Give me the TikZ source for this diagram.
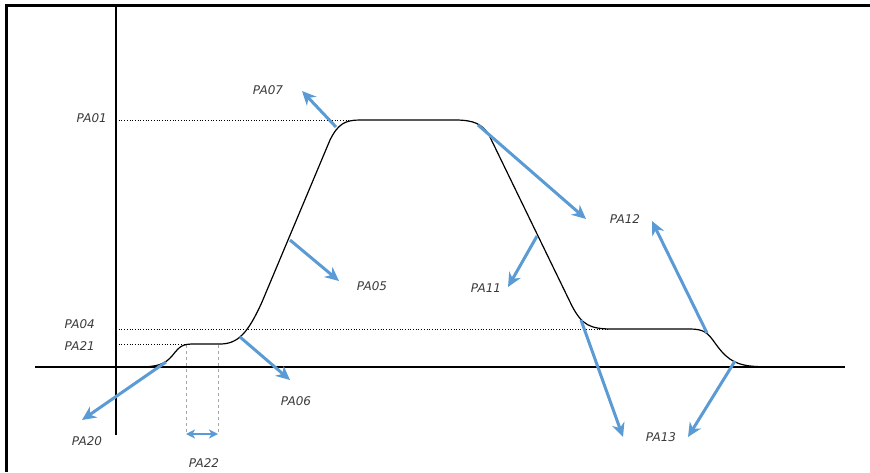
\documentclass[tikz,border=0pt]{standalone}
\usepackage{fontspec}
\setsansfont{DejaVu Sans}
\usetikzlibrary{arrows.meta}
\definecolor{arrowblue}{HTML}{5B9BD5}
\definecolor{labelgray}{HTML}{3A3A3A}
\tikzset{
  frameline/.style={line width=3pt, black},
  axisline/.style={line width=1.1pt, black},
  levelline/.style={line width=0.7pt, dotted, black},
  guide/.style={line width=0.7pt, dashed, gray!70},
  curveline/.style={line width=1.2pt, black},
  bluearrow/.style={line width=3pt, arrowblue, -{Stealth[length=14pt,width=13pt,inset=4.5pt]}},
  bluedouble/.style={line width=2.2pt, arrowblue, {Stealth[length=9pt,width=9pt,inset=2.5pt]}-{Stealth[length=9pt,width=9pt,inset=2.5pt]}},
  lbl/.style={font=\sffamily\itshape\fontsize{12}{14}\selectfont, text=labelgray, inner sep=0pt}
}
\begin{document}
\begin{tikzpicture}[x=1pt,y=-1pt]
\useasboundingbox (0,0) rectangle (870,472);
% frame
\draw[frameline] (6,472) -- (6,5) -- (870,5);
% axes
\coordinate (yt) at (116,7);
\coordinate (yb) at (116,435);
\coordinate (xl) at (35,367);
\coordinate (xr) at (845,367);
\draw[axisline] (yt) -- (yb);
\draw[axisline] (xl) -- (xr);
% level lines
\coordinate (l1a) at (116,120); \coordinate (l1b) at (352,120);
\coordinate (l4a) at (116,329); \coordinate (l4b) at (608,329);
\coordinate (l21a) at (116,344); \coordinate (l21b) at (190,344);
\draw[levelline] (l1a) -- (l1b);
\draw[levelline] (l4a) -- (l4b);
\draw[levelline] (l21a) -- (l21b);
% guides
\coordinate (g1t) at (186,345); \coordinate (g1b) at (186,434);
\coordinate (g2t) at (218,345); \coordinate (g2b) at (218,434);
\draw[guide] (g1t) -- (g1b);
\draw[guide] (g2t) -- (g2b);
% curve
\draw[curveline] (138,367) .. controls (158,367) and (165,364) .. (172,356)
  .. controls (180,346) and (182,344) .. (194,344) -- (220,344)
  .. controls (238,344) and (248,333) .. (262,302)
  -- (330,140) .. controls (338,124) and (345,120) .. (360,120)
  -- (455,120) .. controls (474,120) and (482,124) .. (489,135)
  -- (572,306) .. controls (582,325) and (590,329) .. (612,329)
  -- (690,329) .. controls (704,329) and (708,333) .. (715,343)
  .. controls (725,357) and (733,364) .. (750,366)
  .. controls (760,367) and (770,367) .. (778,367);
% label nodes
\node[lbl, anchor=east] (pa01) at (107,118) {PA01};
\node[lbl, anchor=east] (pa04) at (95,324) {PA04};
\node[lbl, anchor=east] (pa21) at (95,346) {PA21};
\node[lbl] (pa07) at (268,90) {PA07};
\node[lbl] (pa05) at (372,286) {PA05};
\node[lbl] (pa06) at (296,401) {PA06};
\node[lbl] (pa20) at (87,441) {PA20};
\node[lbl] (pa22) at (204,463) {PA22};
\node[lbl] (pa11) at (486,288) {PA11};
\node[lbl] (pa12) at (625,219) {PA12};
\node[lbl] (pa13) at (661,437) {PA13};
% arrow start points on curve
\coordinate (s07) at (336,127);
\coordinate (s05) at (290,240);
\coordinate (s06) at (240,337);
\coordinate (s20) at (166,362);
\coordinate (s11) at (537,236);
\coordinate (s12) at (478,125);
\coordinate (s12b) at (707,333);
\coordinate (s13a) at (581,320);
\coordinate (s13b) at (735,361);
% arrow tips
\coordinate (e07) at (302,91);
\coordinate (e05) at (339,281);
\coordinate (e06) at (290,380);
\coordinate (e20) at (82,420);
\coordinate (e11) at (508,287);
\coordinate (e12) at (586,219);
\coordinate (e12b) at (652,221);
\coordinate (e13a) at (623,437);
\coordinate (e13b) at (688,437);
\draw[bluearrow] (s07) -- (e07);
\draw[bluearrow] (s05) -- (e05);
\draw[bluearrow] (s06) -- (e06);
\draw[bluearrow] (s20) -- (e20);
\draw[bluearrow] (s11) -- (e11);
\draw[bluearrow] (s12) -- (e12);
\draw[bluearrow] (s12b) -- (e12b);
\draw[bluearrow] (s13a) -- (e13a);
\draw[bluearrow] (s13b) -- (e13b);
% PA22 double arrow
\coordinate (d1) at (186,434);
\coordinate (d2) at (218,434);
\draw[bluedouble] (d1) -- (d2);
\end{tikzpicture}
\end{document}
